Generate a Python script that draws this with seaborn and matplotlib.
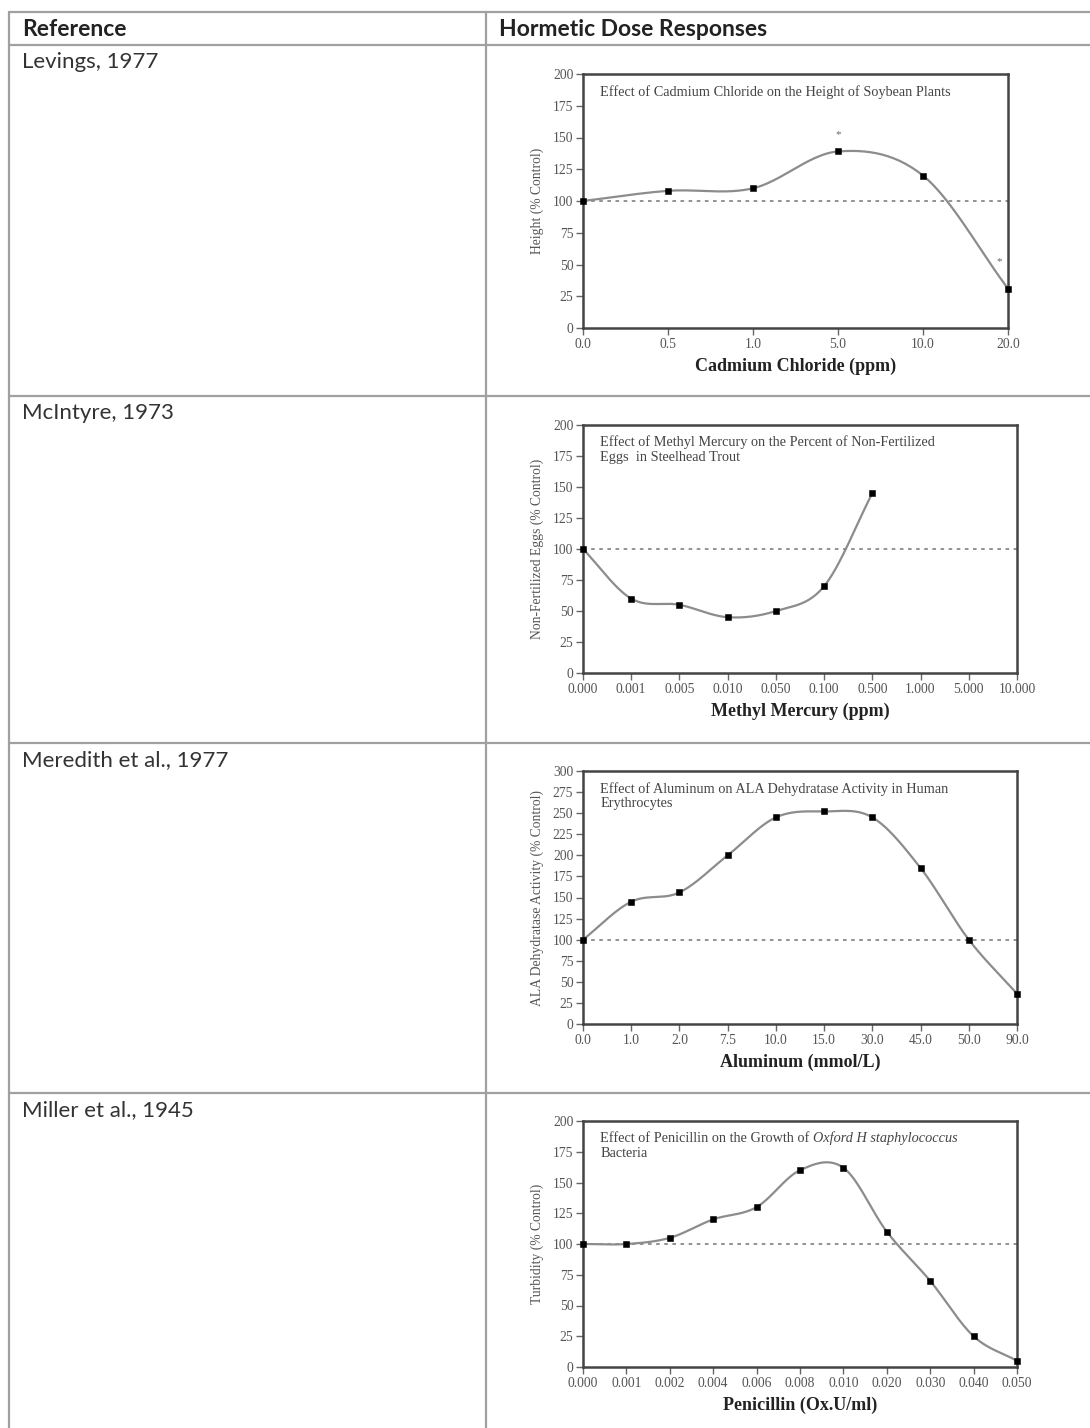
import numpy as np
import pandas as pd
import matplotlib
matplotlib.use("Agg")
import matplotlib.pyplot as plt
import seaborn as sns

# ---- data ----
references = ["Levings, 1977", "McIntyre, 1973", "Meredith et al., 1977", "Miller et al., 1945"]

cd_doses = ["0.0", "0.5", "1.0", "5.0", "10.0", "20.0"]
cd_height = [100, 108, 110, 139, 120, 31]

hg_doses = ["0.000", "0.001", "0.005", "0.010", "0.050", "0.100", "0.500", "1.000", "5.000", "10.000"]
hg_eggs = [100, 60, 55, 45, 50, 70, 145]

al_doses = ["0.0", "1.0", "2.0", "7.5", "10.0", "15.0", "30.0", "45.0", "50.0", "90.0"]
al_activity = [100, 145, 156, 200, 245, 252, 245, 185, 100, 36]

pen_doses = ["0.000", "0.001", "0.002", "0.004", "0.006", "0.008", "0.010", "0.020", "0.030", "0.040", "0.050"]
pen_turbidity = [100, 100, 105, 120, 130, 160, 162, 110, 70, 25, 5]

W, H = 1090, 1428
SERIF = "Liberation Serif"
SANS = "Lato"

sns.set_theme(style="white")
plt.rcParams["font.family"] = [SANS, "DejaVu Sans"]

fig = plt.figure(figsize=(W / 100, H / 100), dpi=100)

# background axes in pixel coordinates for the table
bg = fig.add_axes([0, 0, 1, 1])
bg.set_xlim(0, W)
bg.set_ylim(H, 0)
bg.axis("off")

line_kw = dict(color="#a0a0a0", lw=1.6)
left, mid, right = 9, 486, W + 5
rows = [12, 45, 396, 743, 1093]
for y in rows:
    bg.plot([left, right], [y, y], **line_kw)
for x in [left, mid]:
    bg.plot([x, x], [rows[0], H + 5], **line_kw)

bg.text(22, 29, "Reference", fontsize=16.5, fontweight="bold", color="#222222", va="center", family=SANS)
bg.text(499, 29, "Hormetic Dose Responses", fontsize=16.5, fontweight="bold", color="#222222", va="center", family=SANS)
for y, name in zip(rows[1:], references):
    bg.text(22, y + 17, name, fontsize=16, color="#333333", va="center", family=SANS)


def smooth(vals, n=30):
    # Catmull-Rom spline through the points (category index as x)
    p = np.array(vals, dtype=float)
    idx = np.arange(len(p), dtype=float)
    pts = np.column_stack([idx, p])
    ext = np.vstack([2 * pts[0] - pts[1], pts, 2 * pts[-1] - pts[-2]])
    out = []
    for i in range(1, len(ext) - 2):
        p0, p1, p2, p3 = ext[i - 1], ext[i], ext[i + 1], ext[i + 2]
        t = np.linspace(0, 1, n)[:, None]
        seg = 0.5 * ((2 * p1) + (-p0 + p2) * t + (2 * p0 - 5 * p1 + 4 * p2 - p3) * t ** 2
                     + (-p0 + 3 * p1 - 3 * p2 + p3) * t ** 3)
        out.append(seg)
    c = np.vstack(out)
    return c[:, 0], c[:, 1]


def panel(box, doses, vals, ymax, ylabel, xlabel, title_lines):
    x0, y0, x1, y1 = box
    ax = fig.add_axes([x0 / W, 1 - y1 / H, (x1 - x0) / W, (y1 - y0) / H])
    sx, sy = smooth(vals)
    df = pd.DataFrame({"x": sx, "y": sy})
    ax.axhline(100, color="#8a8a8a", lw=1.3, ls=(0, (2, 2.5)), zorder=1)
    sns.lineplot(data=df, x="x", y="y", ax=ax, color="#8c8c8c", lw=1.6,
                 estimator=None, sort=False, zorder=2)
    pts = pd.DataFrame({"x": np.arange(len(vals)), "y": vals})
    sns.scatterplot(data=pts, x="x", y="y", ax=ax, marker="s", s=24, color="black",
                    edgecolor="black", zorder=3, clip_on=False)
    ax.set_xlim(0, len(doses) - 1)
    ax.set_ylim(0, ymax)
    ax.set_xticks(range(len(doses)))
    ax.set_xticklabels(doses)
    ax.set_yticks(np.arange(0, ymax + 1, 25))
    ax.tick_params(axis="both", direction="out", length=5, width=1, color="#666666",
                   labelsize=9.8, labelcolor="#555555", pad=2, bottom=True, left=True)
    for lab in ax.get_xticklabels() + ax.get_yticklabels():
        lab.set_family(SERIF)
    for sp in ax.spines.values():
        sp.set_color("#444444")
        sp.set_linewidth(1.8)
    ax.set_xlabel(xlabel, family=SERIF, fontsize=13, fontweight="bold", color="#222222", labelpad=5)
    ax.set_ylabel(ylabel, family=SERIF, fontsize=9.8, color="#555555", labelpad=6)
    ty = 0.93
    for ln in title_lines:
        if isinstance(ln, tuple):
            t1 = ax.text(0.04, ty, ln[0], transform=ax.transAxes, family=SERIF, fontsize=10.3,
                         color="#444444", va="center")
            fig.canvas.draw()
            bb = t1.get_window_extent().transformed(ax.transAxes.inverted())
            ax.text(bb.x1, ty, ln[1], transform=ax.transAxes, family=SERIF, fontsize=10.3,
                    style="italic", color="#444444", va="center")
        else:
            ax.text(0.04, ty, ln, transform=ax.transAxes, family=SERIF, fontsize=10.3,
                    color="#444444", va="center")
        ty -= 15 / (y1 - y0)
    return ax


ax1 = panel((583, 74, 1008, 328), cd_doses, cd_height, 200, "Height (% Control)",
            "Cadmium Chloride (ppm)", ["Effect of Cadmium Chloride on the Height of Soybean Plants"])
ax1.text(3, 152, "*", ha="center", va="center", fontsize=8, color="#666666", family=SERIF)
ax1.text(4.9, 52, "*", ha="center", va="center", fontsize=8, color="#666666", family=SERIF)

panel((583, 425, 1017, 673), hg_doses, hg_eggs, 200, "Non-Fertilized Eggs (% Control)",
      "Methyl Mercury (ppm)",
      ["Effect of Methyl Mercury on the Percent of Non-Fertilized", "Eggs  in Steelhead Trout"])

panel((583, 771, 1017, 1024), al_doses, al_activity, 300, "ALA Dehydratase Activity (% Control)",
      "Aluminum (mmol/L)",
      ["Effect of Aluminum on ALA Dehydratase Activity in Human", "Erythrocytes"])

panel((583, 1121, 1017, 1367), pen_doses, pen_turbidity, 200, "Turbidity (% Control)",
      "Penicillin (Ox.U/ml)",
      [("Effect of Penicillin on the Growth of ", "Oxford H staphylococcus"), "Bacteria"])

fig.savefig("out.png", dpi=100, facecolor="white")
